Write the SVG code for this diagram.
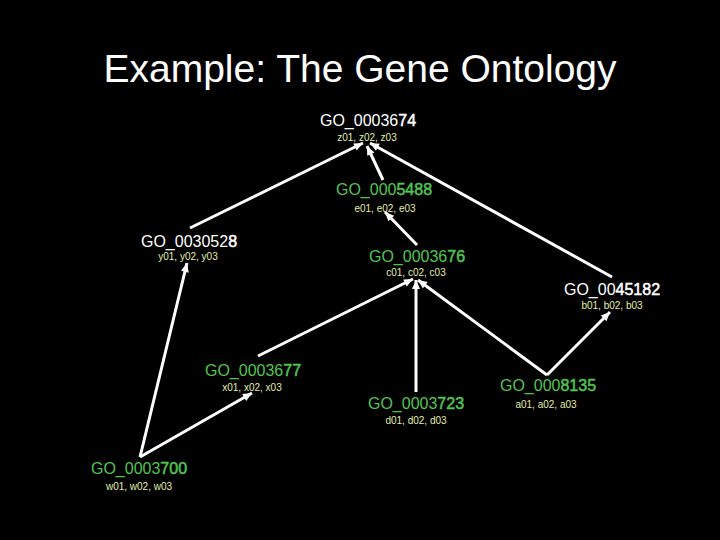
<svg xmlns="http://www.w3.org/2000/svg" width="720" height="540" viewBox="0 0 720 540">
<style>
.title{font-family:"Liberation Sans",Arial,sans-serif;font-size:39px;fill:#ffffff;text-anchor:middle}
.lab{font-family:"Liberation Sans",Arial,sans-serif;font-size:16px;text-anchor:middle}
.w{fill:#ffffff}
.g{fill:#52c452}
.w .b{stroke:#ffffff;stroke-width:0.5}
.g .b{stroke:#52c452;stroke-width:0.5}
.sub{font-family:"Liberation Sans",Arial,sans-serif;font-size:10px;fill:#e2eea6;text-anchor:middle}
.edge{stroke:#ffffff;stroke-width:3;fill:none;marker-end:url(#arr)}
</style>
<defs>
<marker id="arr" markerUnits="userSpaceOnUse" markerWidth="12" markerHeight="12" viewBox="0 0 12 12" refX="10" refY="6" orient="auto">
<path d="M1,2 L10,6 L1,10 z" fill="#ffffff"/>
</marker>
</defs>
<rect width="720" height="540" fill="#000000"/>
<text class="title" x="360" y="82">Example: The Gene Ontology</text>
<g id="connectors">
<line class="edge" x1="190" y1="228" x2="363" y2="143"/>
<line class="edge" x1="383" y1="180" x2="367" y2="146"/>
<line class="edge" x1="612" y1="277" x2="370" y2="143"/>
<line class="edge" x1="417" y1="245" x2="385" y2="212"/>
<line class="edge" x1="258" y1="356" x2="413" y2="279"/>
<line class="edge" x1="416" y1="392" x2="416" y2="280"/>
<line class="edge" x1="547" y1="375" x2="418" y2="280"/>
<line class="edge" x1="547" y1="375" x2="610" y2="312"/>
<line class="edge" x1="140" y1="457" x2="187" y2="263"/>
<line class="edge" x1="140" y1="457" x2="252" y2="393"/>
</g>
<g id="GO_0003674">
<text class="lab w" x="368" y="126">GO_00036<tspan class="b">74</tspan></text>
<text class="sub" x="367" y="141">z01, z02, z03</text>
</g>
<g id="GO_0005488">
<text class="lab g" x="384" y="195">GO_000<tspan class="b">5488</tspan></text>
<text class="sub" x="385" y="212">e01, e02, e03</text>
</g>
<g id="GO_0030528">
<text class="lab w" x="189" y="247">GO_003052<tspan class="b">8</tspan></text>
<text class="sub" x="188" y="260">y01, y02, y03</text>
</g>
<g id="GO_0003676">
<text class="lab g" x="417" y="262">GO_00036<tspan class="b">76</tspan></text>
<text class="sub" x="416" y="276">c01, c02, c03</text>
</g>
<g id="GO_0045182">
<text class="lab w" x="612" y="295">GO_00<tspan class="b">45182</tspan></text>
<text class="sub" x="612" y="309">b01, b02, b03</text>
</g>
<g id="GO_0003677">
<text class="lab g" x="253" y="376">GO_00036<tspan class="b">77</tspan></text>
<text class="sub" x="252" y="391">x01, x02, x03</text>
</g>
<g id="GO_0003723">
<text class="lab g" x="416" y="409">GO_0003<tspan class="b">723</tspan></text>
<text class="sub" x="416" y="424">d01, d02, d03</text>
</g>
<g id="GO_0008135">
<text class="lab g" x="548" y="391">GO_000<tspan class="b">8135</tspan></text>
<text class="sub" x="546" y="408">a01, a02, a03</text>
</g>
<g id="GO_0003700">
<text class="lab g" x="139" y="474">GO_0003<tspan class="b">700</tspan></text>
<text class="sub" x="139" y="490">w01, w02, w03</text>
</g>
</svg>
